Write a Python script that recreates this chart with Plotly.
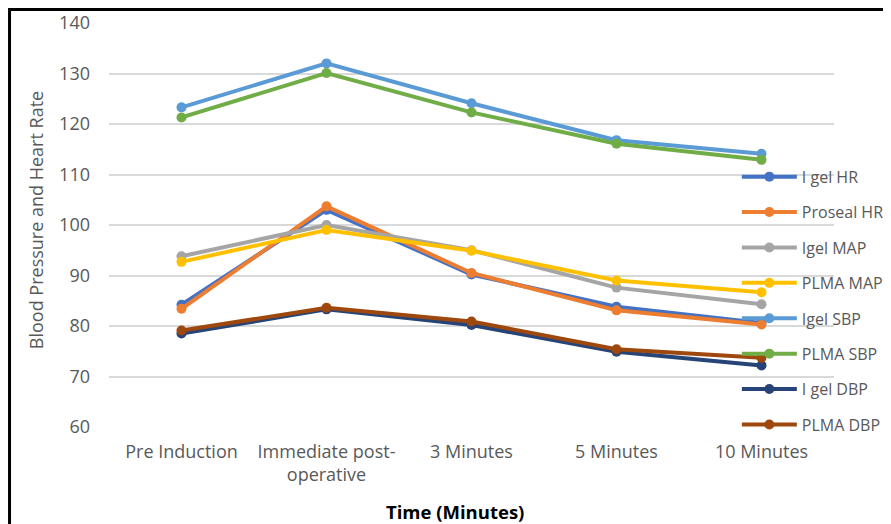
import plotly.graph_objects as go

categories = ["Pre Induction", "Immediate post-<br>operative", "3 Minutes", "5 Minutes", "10 Minutes"]

igel_hr = [84.2, 103.0, 90.2, 83.8, 80.6]
proseal_hr = [83.4, 103.7, 90.5, 83.1, 80.3]
igel_map = [93.8, 100.0, 95.0, 87.6, 84.3]
plma_map = [92.7, 99.0, 94.9, 89.0, 86.7]
igel_sbp = [123.3, 132.0, 124.1, 116.8, 114.1]
plma_sbp = [121.3, 130.1, 122.3, 116.1, 112.9]
igel_dbp = [78.5, 83.3, 80.2, 74.9, 72.2]
plma_dbp = [79.1, 83.6, 80.9, 75.4, 73.7]

series_names = ["I gel HR", "Proseal HR", "Igel MAP", "PLMA MAP", "Igel SBP", "PLMA SBP", "I gel DBP", "PLMA DBP"]
series_values = [igel_hr, proseal_hr, igel_map, plma_map, igel_sbp, plma_sbp, igel_dbp, plma_dbp]
colors = ["#4472C4", "#ED7D31", "#A5A5A5", "#FFC000", "#5B9BD5", "#70AD47", "#264478", "#9E480E"]

font_family = "'Open Sans', sans-serif"
grey = "#595959"

fig = go.Figure()
for i, (name, vals, col) in enumerate(zip(series_names, series_values, colors)):
    fig.add_trace(go.Scatter(
        x=categories, y=vals, name=name, mode="lines+markers",
        line=dict(color=col, width=4),
        marker=dict(color=col, size=10),
        legendgroup=f"g{i}",
    ))

fig.update_layout(
    width=883, height=516,
    margin=dict(l=101, r=57, t=15, b=97, autoexpand=False),
    paper_bgcolor="white", plot_bgcolor="white",
    font=dict(family=font_family, color=grey, size=18),
    showlegend=True,
    legend=dict(
        x=0.866, y=0.6615, xanchor="left", yanchor="top",
        bgcolor="rgba(0,0,0,0)",
        font=dict(size=16, color=grey),
        traceorder="grouped", tracegroupgap=11.6,
        itemwidth=55,
    ),
    xaxis=dict(
        type="category", range=[-0.5, 4.5],
        showgrid=False, showline=False, zeroline=False,
        tickfont=dict(size=18, color=grey),
        ticks="", ticklabelstandoff=12, automargin=False,
    ),
    yaxis=dict(
        range=[60, 140], dtick=10, showgrid=True, gridcolor="#D9D9D9", gridwidth=1.5,
        zeroline=False, showline=False, automargin=False,
        tickfont=dict(size=18, color=grey),
        ticklabelstandoff=18,
    ),
    annotations=[
        dict(
            text="<b>Time (Minutes)</b>", xref="paper", yref="paper",
            x=0.477, y=-0.208, xanchor="center", yanchor="middle", showarrow=False,
            font=dict(size=18.5, color="black"),
        ),
        dict(
            text="Blood Pressure and Heart Rate", xref="paper", yref="paper",
            x=-0.1007, y=0.512, xanchor="center", yanchor="middle", showarrow=False,
            textangle=-90, font=dict(size=18, color=grey),
        ),
    ],
    shapes=[dict(
        type="rect", xref="paper", yref="paper",
        x0=-0.1372, y0=-0.4, x1=1.3, y1=1.0334,
        line=dict(color="black", width=3), fillcolor="rgba(0,0,0,0)", layer="above",
    )],
)

fig.write_html("out.html")
